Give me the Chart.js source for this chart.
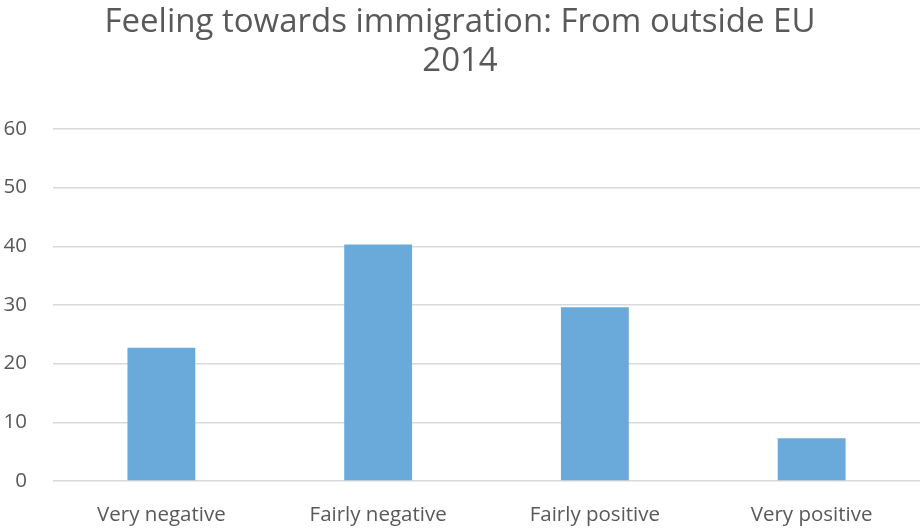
<!DOCTYPE html>
<html>
<head>
<meta charset="utf-8">
<script src="https://cdn.jsdelivr.net/npm/chart.js@4/dist/chart.umd.min.js"></script>
<style>
  html, body { margin: 0; padding: 0; background: #fff; }
  #wrap { width: 920px; height: 528px; position: relative; }
</style>
</head>
<body>
<div id="wrap"><canvas id="chart"></canvas></div>
<script>
// Survey shares (%) — feeling towards immigration from outside the EU, 2014
const categories = ['Very negative', 'Fairly negative', 'Fairly positive', 'Very positive'];
const shares = [22.7, 40.3, 29.6, 7.3];
const yTicks = [0, 10, 20, 30, 40, 50, 60];
const titleLines = ['Feeling towards immigration: From outside EU', '2014'];

const FONT = "'Open Sans', 'Liberation Sans', sans-serif";
const GREY = '#595959';

new Chart(document.getElementById('chart'), {
  type: 'bar',
  data: {
    labels: categories,
    datasets: [{
      data: shares,
      backgroundColor: '#6aaadb',
      borderWidth: 0,
      categoryPercentage: 1,
      barPercentage: 0.313,
    }]
  },
  options: {
    responsive: true, maintainAspectRatio: false,
    animation: false,
    layout: { padding: { left: 0, right: 0, top: 3, bottom: 0 } },
    plugins: {
      legend: { display: false },
      tooltip: { enabled: false },
      title: {
        display: true,
        text: titleLines,
        color: GREY,
        font: { family: FONT, size: 33, weight: 'normal', lineHeight: 1.18 },
        padding: { top: 0, bottom: 48 },
      },
    },
    scales: {
      x: {
        afterFit: s => { s.height = 47; },
        grid: { display: false, drawTicks: false },
        border: { display: false },
        ticks: { color: GREY, font: { family: FONT, size: 20.5 }, padding: 22 },
      },
      y: {
        min: 0, max: 60,
        afterBuildTicks: s => { s.ticks = yTicks.map(v => ({ value: v })); },
        afterFit: s => { s.width = 53; },
        grid: { color: '#d9d9d9', lineWidth: 1.5, drawTicks: false },
        border: { display: false },
        ticks: { color: GREY, font: { family: FONT, size: 20.5 }, padding: 26 },
      }
    }
  }
});
</script>
</body>
</html>
